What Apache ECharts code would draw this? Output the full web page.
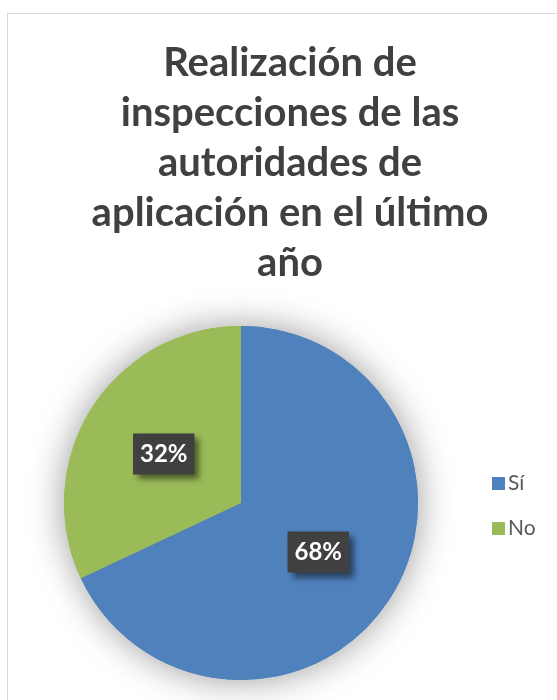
<!DOCTYPE html>
<html>
<head>
<meta charset="utf-8">
<script src="https://cdn.jsdelivr.net/npm/echarts@6/dist/echarts.min.js"></script>
<style>
  html, body { margin: 0; padding: 0; background: #fff; }
  .frame {
    position: absolute;
    left: 7px;
    top: 13px;
    width: 560px;
    height: 700px;
    border: 1px solid #d9d9d9;
    box-sizing: border-box;
  }
  #chart {
    position: absolute;
    left: 0;
    top: 0;
    width: 557px;
    height: 700px;
  }
</style>
</head>
<body>
<div class="frame"></div>
<div id="chart"></div>
<script>
const titleText = 'Realización de\ninspecciones de las\nautoridades de\naplicación en el último\naño';
const categories = ['Sí', 'No'];
const values = [68, 32];
const colors = ['#4f81bd', '#9bbb59'];

const pieData = categories.map((name, i) => ({ name: name, value: values[i] }));

const chart = echarts.init(document.getElementById('chart'));
chart.setOption({
  color: colors,
  animation: false,
  title: {
    text: titleText,
    left: 285,
    textAlign: 'center',
    top: 33,
    textStyle: {
      fontFamily: 'Lato',
      fontWeight: 'bold',
      fontSize: 40,
      lineHeight: 50,
      color: '#404040'
    }
  },
  legend: {
    orient: 'vertical',
    left: 487,
    top: 468,
    itemWidth: 13,
    itemHeight: 13,
    itemGap: 24,
    icon: 'rect',
    data: categories,
    textStyle: {
      fontFamily: 'Lato',
      fontSize: 21,
      color: '#595959',
      padding: [0, 0, 0, -2]
    }
  },
  series: [
    {
      // soft shadow behind the pie
      type: 'pie',
      silent: true,
      center: [241, 503],
      radius: 177,
      startAngle: 90,
      z: 1,
      label: { show: false },
      labelLine: { show: false },
      itemStyle: {
        shadowBlur: 36,
        shadowColor: 'rgba(0,0,0,0.4)'
      },
      data: pieData
    },
    {
      type: 'pie',
      center: [241, 503],
      radius: 177,
      startAngle: 90,
      z: 2,
      label: {
        show: true,
        position: 'inside',
        formatter: '{d}%',
        fontFamily: 'Lato',
        fontWeight: 'bold',
        fontSize: 24,
        lineHeight: 25,
        color: '#fff',
        backgroundColor: '#404040',
        padding: [8, 7, 8, 7],
        shadowColor: 'rgba(0,0,0,0.5)',
        shadowBlur: 6,
        shadowOffsetX: 5,
        shadowOffsetY: 5
      },
      labelLine: { show: false },
      itemStyle: { borderWidth: 0 },
      emphasis: { disabled: true },
      data: pieData
    }
  ]
});
</script>
</body>
</html>
